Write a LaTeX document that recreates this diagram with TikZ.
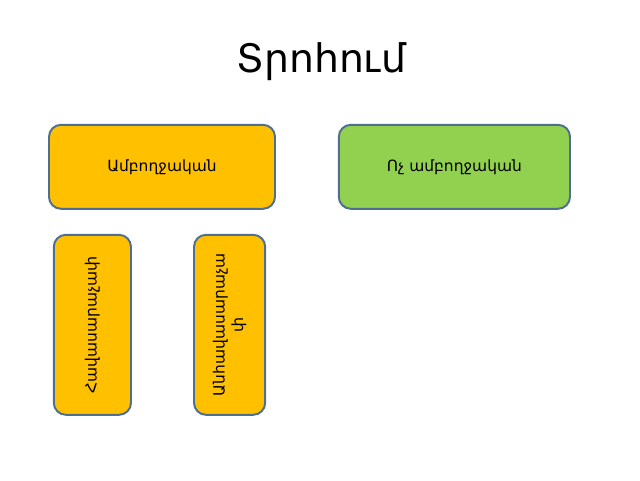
\documentclass[tikz,border=0pt]{standalone}
\usepackage{fontspec}
\setmainfont{DejaVu Sans}
\definecolor{boxline}{RGB}{80,110,145}
\definecolor{boxyellow}{RGB}{255,192,0}
\definecolor{boxgreen}{RGB}{146,208,80}
\begin{document}
\begin{tikzpicture}[
    part/.style={draw=boxline, line width=1.4pt, rounded corners=0.3cm,
      font=\fontsize{11}{13}\selectfont, align=center, inner sep=2pt},
    whole/.style={part, fill=boxyellow},
    notwhole/.style={part, fill=boxgreen}]
  \useasboundingbox (0,0) rectangle (16,12);
  \node (title) at (8.03,10.45) {\fontsize{28}{33}\selectfont Տրոհում};
  \node[whole, minimum width=5.65cm, minimum height=2.1cm]
    (full) at (4.05,7.83) {Ամբողջական};
  \node[notwhole, minimum width=5.78cm, minimum height=2.1cm]
    (notfull) at (11.36,7.83) {Ոչ ամբողջական};
  \node[whole, rotate=90, minimum width=4.5cm, minimum height=1.93cm]
    (even) at (2.31,3.88) {Հավասարաչափ};
  \node[whole, rotate=90, minimum width=4.5cm, minimum height=1.78cm]
    (uneven) at (5.74,3.88) {Անհավասարաչա\\փ};
\end{tikzpicture}
\end{document}
